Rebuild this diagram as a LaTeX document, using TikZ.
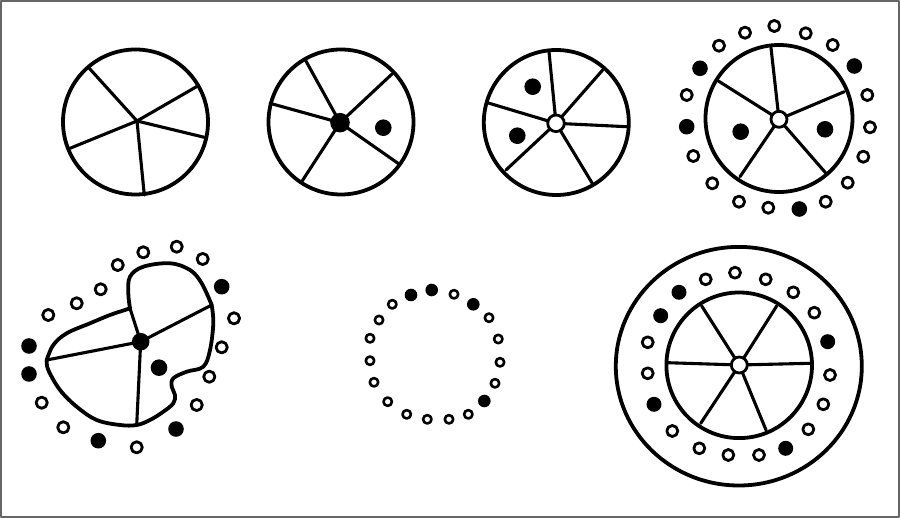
\documentclass[tikz,border=0pt]{standalone}
\begin{document}
\begin{tikzpicture}[x=1pt,y=-1pt,
  rim/.style={line width=3.8pt},
  spoke/.style={line width=3.1pt},
  od/.style={draw, line width=2.8pt, fill=white},
  odsmall/.style={draw, line width=2.6pt, fill=white},
  fd/.style={fill=black},
  hubopen/.style={draw, line width=2.8pt, fill=white},
  line join=round, line cap=round]
\useasboundingbox (0,0) rectangle (900,518);
\fill[white] (0,0) rectangle (900,518);
\draw[black!60, line width=1.8pt] (1,1) rectangle (899,517);

% ---- Figure 1 ----
\coordinate (h1) at (137,121);
\draw[rim] (135.5,122) circle[radius=72.5];
\foreach \x/\y in {89.3/68.3, 197.7/86, 206/137.7, 144.3/195, 70/148.3}
  \draw[spoke] (h1) -- (\x,\y);

% ---- Figure 2 ----
\coordinate (h2) at (340,122.7);
\draw[rim] (341,122) circle[radius=72.5];
\foreach \x/\y in {305/59.3, 391.7/74.3, 399/164, 301.7/181.7, 270/103.3}
  \draw[spoke] (h2) -- (\x,\y);
\fill (h2) circle[radius=9.8];
\fill (383.3,127.7) circle[radius=8.3];

% ---- Figure 3 ----
\coordinate (h3) at (556,123.3);
\draw[rim] (556.3,122.5) circle[radius=72.5];
\foreach \x/\y in {549/51.7, 602.7/70, 626.7/126.7, 592.7/184, 506/170, 487.3/102.7}
  \draw[spoke] (h3) -- (\x,\y);
\draw[hubopen] (h3) circle[radius=8.3];
\fill (532.7,86.7) circle[radius=8.3];
\fill (517.3,135.7) circle[radius=8.3];

% ---- Figure 4 ----
\coordinate (h4) at (779,119.3);
\draw[rim] (779,118.5) circle[radius=73.5];
\foreach \x/\y in {771/47.7, 844.3/91.7, 826/173.3, 740/176.7, 718.3/81}
  \draw[spoke] (h4) -- (\x,\y);
\draw[hubopen] (h4) circle[radius=8];
\fill (740.7,131.7) circle[radius=8.3];
\fill (825,129.3) circle[radius=8.3];
\foreach \x/\y in {774.3/26, 805.7/33.3, 832.7/45, 867.3/95, 870/127.3, 863.3/156.7,
  847.7/182.7, 825.7/201.7, 768.3/207.7, 739/201.7, 712.3/183.3, 693.3/156,
  686.7/95, 719/45.7, 745/32.7}
  \draw[od] (\x,\y) circle[radius=5.6];
\foreach \x/\y in {854.3/66, 799.3/209, 686.7/126.7, 700/68.3}
  \fill[fd] (\x,\y) circle[radius=7.8];

% ---- Figure 5 ----
\coordinate (h5) at (140.7,341.7);
\coordinate (n5) at (130,308.3);
\coordinate (r5) at (211.7,305);
\coordinate (b5) at (136.7,425);
\coordinate (l5) at (46.7,360);
\draw[rim]
  plot[smooth, tension=0.6] coordinates {(130,308.3) (128.3,293.3) (130,276.7) (143.3,266.7)
     (170,263.3) (190,270) (201.7,283.3) (211.7,305)}
  -- plot[smooth, tension=0.6] coordinates {(211.7,305) (213.3,323.3) (210,350) (203.3,366.7)
     (186.7,371.7) (173.3,378.3) (171.7,386.7) (175,395) (173.3,403.3) (163.3,411.7)
     (150,420) (136.7,425) (120,425) (96.7,420) (76.7,406.7) (60,390) (48.3,370) (46.7,360)}
  -- plot[smooth, tension=0.6] coordinates {(46.7,360) (53.3,345) (66.7,333.3) (90,323.3)
     (110,315) (125,310) (130,308.3)};
\foreach \c in {n5, r5, b5, l5}
  \draw[spoke] (h5) -- (\c);
\fill (h5) circle[radius=8.8];
\fill (159,367.7) circle[radius=8.3];
\foreach \x/\y in {176.7/246.7, 202.7/259, 234/318.3, 221.7/347.3, 209.3/376.7, 196.7/405,
  136.7/447.3, 63.3/427.3, 41.7/402.7, 48.3/315, 76.7/303.3, 100.7/289.3, 117.7/265, 143.3/252.3}
  \draw[od] (\x,\y) circle[radius=5.6];
\foreach \x/\y in {221.7/286.7, 176/429, 98.3/440.7, 29/374, 29/346}
  \fill[fd] (\x,\y) circle[radius=7.8];

% ---- Figure 6 ----
\foreach \x/\y in {454/294.3, 489/317.7, 498.3/339, 500/362.3, 495/383.3, 468.3/414.3,
  449/419.3, 427.3/419.3, 406.7/414.3, 387.7/401.7, 374/382.3, 370/360.7, 370/338.3,
  379/320, 392.3/304.3}
  \draw[odsmall] (\x,\y) circle[radius=4.2];
\foreach \x/\y in {431.7/290, 473.3/304.3, 484.3/401, 411/295}
  \fill[fd] (\x,\y) circle[radius=6.3];

% ---- Figure 7 ----
\coordinate (h7) at (739.3,365);
\draw[rim] (738.8,366.2) ellipse[x radius=123, y radius=119.3];
\draw[rim] (739.2,365.3) circle[radius=72.8];
\foreach \x/\y in {701.7/306, 776.7/306, 810/363.3, 766/430, 700.7/423.3, 667.3/362.7}
  \draw[spoke] (h7) -- (\x,\y);
\draw[hubopen] (h7) circle[radius=8];
\foreach \x/\y in {735/272.7, 765.7/279.3, 793.3/292.3, 814.3/312.7, 830/375, 823.3/404.3,
  808.3/429.3, 759/455, 728.3/455, 699.3/448.3, 672.3/431, 647.7/373.3, 647.7/342.3, 705.7/279.3}
  \draw[od] (\x,\y) circle[radius=5.5];
\foreach \x/\y in {827.7/341.7, 785.7/448.3, 654/404.3, 660.7/315.7, 679/292.3}
  \fill[fd] (\x,\y) circle[radius=7.5];
\end{tikzpicture}
\end{document}
